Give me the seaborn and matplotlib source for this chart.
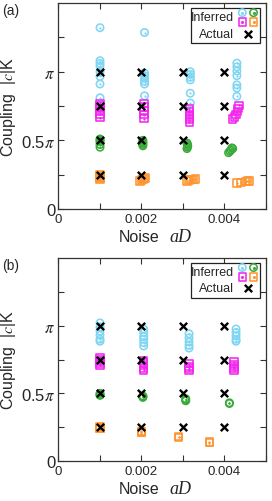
import numpy as np
import pandas as pd
import matplotlib
matplotlib.use("Agg")
import matplotlib.pyplot as plt
import seaborn as sns
from matplotlib.patches import Rectangle

# ---------------- data (y in units of pi) ----------------
actual_x = [0.001, 0.002, 0.003, 0.004]
actual_y = [1.0, 0.75, 0.5, 0.25]

# panel (a) inferred
a_cyan_x = [0.00101] * 8 + [0.00208] * 7 + [0.00318] * 6 + [0.0043] * 7
a_cyan_y = [1.32, 1.08, 1.06, 1.04, 1.0, 0.965, 0.91, 0.81,
            1.285, 0.99, 0.97, 0.95, 0.93, 0.91, 0.824,
            1.0, 0.98, 0.96, 0.94, 0.843, 0.771,
            1.062, 1.035, 1.005, 0.971, 0.904, 0.881, 0.82]
a_mag_x = [0.00101] * 6 + [0.00207] * 5 + [0.00316] * 6 + [0.00435, 0.00433, 0.00431, 0.00428, 0.00425, 0.0042]
a_mag_y = [0.77, 0.75, 0.73, 0.71, 0.69, 0.665,
           0.766, 0.742, 0.718, 0.687, 0.658,
           0.73, 0.71, 0.69, 0.67, 0.65, 0.63,
           0.755, 0.73, 0.71, 0.69, 0.67, 0.655]
a_grn_x = [0.00101] * 5 + [0.00204] * 5 + [0.0031, 0.00311, 0.00312, 0.00311, 0.0031] + [0.00418, 0.0042, 0.00416, 0.00413, 0.0041]
a_grn_y = [0.51, 0.50, 0.49, 0.47, 0.45,
           0.50, 0.49, 0.48, 0.47, 0.46,
           0.48, 0.47, 0.46, 0.45, 0.44,
           0.445, 0.44, 0.43, 0.42, 0.41]
a_org_x = [0.00101] * 5 + [0.00197, 0.002, 0.00204, 0.00207, 0.0021] + [0.0031, 0.00315, 0.0032, 0.00325, 0.0033] + [0.0043, 0.0044, 0.0045, 0.00455, 0.0046]
a_org_y = [0.25, 0.24, 0.23, 0.22, 0.215,
           0.205, 0.21, 0.215, 0.22, 0.225,
           0.205, 0.21, 0.213, 0.215, 0.218,
           0.19, 0.195, 0.2, 0.203, 0.205]

# panel (b) inferred
b_cyan_x = [0.00101] * 6 + [0.00206] * 6 + [0.00315] * 5 + [0.00428] * 5
b_cyan_y = [1.02, 0.99, 0.96, 0.93, 0.9, 0.885,
            0.975, 0.95, 0.92, 0.9, 0.875, 0.85,
            0.94, 0.91, 0.88, 0.855, 0.835,
            0.975, 0.95, 0.925, 0.9, 0.885]
b_mag_x = [0.00101] * 5 + [0.00206] * 5 + [0.00315] * 4 + [0.00423] * 5
b_mag_y = [0.765, 0.75, 0.735, 0.72, 0.71,
           0.745, 0.725, 0.705, 0.685, 0.67,
           0.72, 0.70, 0.685, 0.67,
           0.735, 0.715, 0.70, 0.685, 0.67]
b_grn_x = [0.00101] * 3 + [0.00204] * 3 + [0.00307] * 3 + [0.00412] * 2
b_grn_y = [0.50, 0.49, 0.485,
           0.48, 0.475, 0.47,
           0.46, 0.45, 0.445,
           0.43, 0.425]
b_org_x = [0.00101] * 3 + [0.002] * 3 + [0.0029] * 2 + [0.00364] * 2
b_org_y = [0.25, 0.245, 0.24,
           0.22, 0.215, 0.21,
           0.18, 0.175,
           0.14, 0.135]

y_ticks = [0, 0.25, 0.5, 0.75, 1.0, 1.25]
y_ticklabels = ["0", "", r"0.5$\pi$", "", r"$\pi$", ""]
x_ticks = [0, 0.001, 0.002, 0.003, 0.004, 0.005]
x_ticklabels = ["0", "", "0.002", "", "0.004", ""]

CYAN = "#7fd6f2"
MAG = "#f227ee"
GRN = "#3aab3a"
ORG = "#ff9530"

sns.set_theme(style="ticks")
plt.rcParams["font.family"] = ["Liberation Sans", "DejaVu Sans"]
plt.rcParams["mathtext.fontset"] = "stix"

W, H = 272, 502
fig = plt.figure(figsize=(W / 100, H / 100), dpi=100)

MS = 28
MLW = 1.15


def inferred(ax, xs, ys, color, marker):
    df = pd.DataFrame({"x": xs, "y": np.array(ys) * np.pi})
    sns.scatterplot(data=df, x="x", y="y", ax=ax, marker=marker, s=MS,
                    facecolor="none", edgecolor=color, linewidth=MLW, zorder=3)
    sns.scatterplot(data=df, x="x", y="y", ax=ax, marker="o", s=1.5,
                    color=color, edgecolor=color, linewidth=0.3, zorder=3)


def panel(ax, label, cyan, mag, grn, org):
    inferred(ax, *cyan, CYAN, "o")
    inferred(ax, *mag, MAG, "s")
    inferred(ax, *grn, GRN, "o")
    inferred(ax, *org, ORG, "s")
    act = pd.DataFrame({
        "x": np.repeat(actual_x, len(actual_y)),
        "y": np.tile(actual_y, len(actual_x)) * np.pi,
    })
    sns.scatterplot(data=act, x="x", y="y", ax=ax, marker="x", s=28,
                    color="black", linewidth=1.7, zorder=4)
    ax.set_xlim(0, 0.005)
    ax.set_ylim(0, 1.5 * np.pi)
    ax.set_xticks(x_ticks)
    ax.set_xticklabels(x_ticklabels, fontsize=9.5)
    ax.set_yticks(np.array(y_ticks) * np.pi)
    ax.set_yticklabels(y_ticklabels, fontsize=12)
    ax.tick_params(direction="in", top=True, right=True, length=4,
                   width=0.8, color="#333333", pad=3)
    ax.tick_params(axis="y", pad=2)
    for sp in ax.spines.values():
        sp.set_visible(True)
        sp.set_linewidth(0.9)
        sp.set_color("#333333")
    ax.set_xlabel("")
    ax.text(0.49, -0.135, "Noise", transform=ax.transAxes, fontsize=11.5,
            ha="right", va="center")
    ax.text(0.535, -0.135, "aD", transform=ax.transAxes, fontsize=13,
            ha="left", va="center", family="Liberation Serif", style="italic")
    ax.set_ylabel(r"Coupling  |$c$|K", fontsize=11.5, labelpad=2)
    ax.text(-0.27, 1.0, label, transform=ax.transAxes, fontsize=10,
            ha="left", va="top")

    # legend drawn manually (axes fraction)
    box = Rectangle((0.64, 0.805), 0.33, 0.17, transform=ax.transAxes,
                    facecolor="white", edgecolor="#222222", linewidth=0.9,
                    zorder=5)
    ax.add_patch(box)
    ax.text(0.845, 0.932, "Inferred", transform=ax.transAxes, fontsize=9,
            ha="right", va="center", zorder=6)
    ax.text(0.845, 0.85, "Actual", transform=ax.transAxes, fontsize=9,
            ha="right", va="center", zorder=6)
    for (lx, ly, c, m) in [(0.886, 0.953, CYAN, "o"), (0.94, 0.953, GRN, "o"),
                           (0.886, 0.907, MAG, "s"), (0.94, 0.907, ORG, "s")]:
        ax.scatter([lx], [ly], transform=ax.transAxes, marker=m, s=MS,
                   facecolor="none", edgecolor=c, linewidth=MLW, zorder=6,
                   clip_on=False)
        ax.scatter([lx], [ly], transform=ax.transAxes, marker="o", s=1.5,
                   color=c, zorder=6, clip_on=False)
    ax.scatter([0.913], [0.85], transform=ax.transAxes, marker="x", s=28,
               color="black", linewidth=1.7, zorder=6, clip_on=False)


ax_a = fig.add_axes([58 / W, 1 - 210 / H, 208 / W, 206 / H])
ax_b = fig.add_axes([58 / W, 1 - 462 / H, 208 / W, 203 / H])

panel(ax_a, "(a)", (a_cyan_x, a_cyan_y), (a_mag_x, a_mag_y),
      (a_grn_x, a_grn_y), (a_org_x, a_org_y))
panel(ax_b, "(b)", (b_cyan_x, b_cyan_y), (b_mag_x, b_mag_y),
      (b_grn_x, b_grn_y), (b_org_x, b_org_y))

fig.savefig("out.png", dpi=100)
